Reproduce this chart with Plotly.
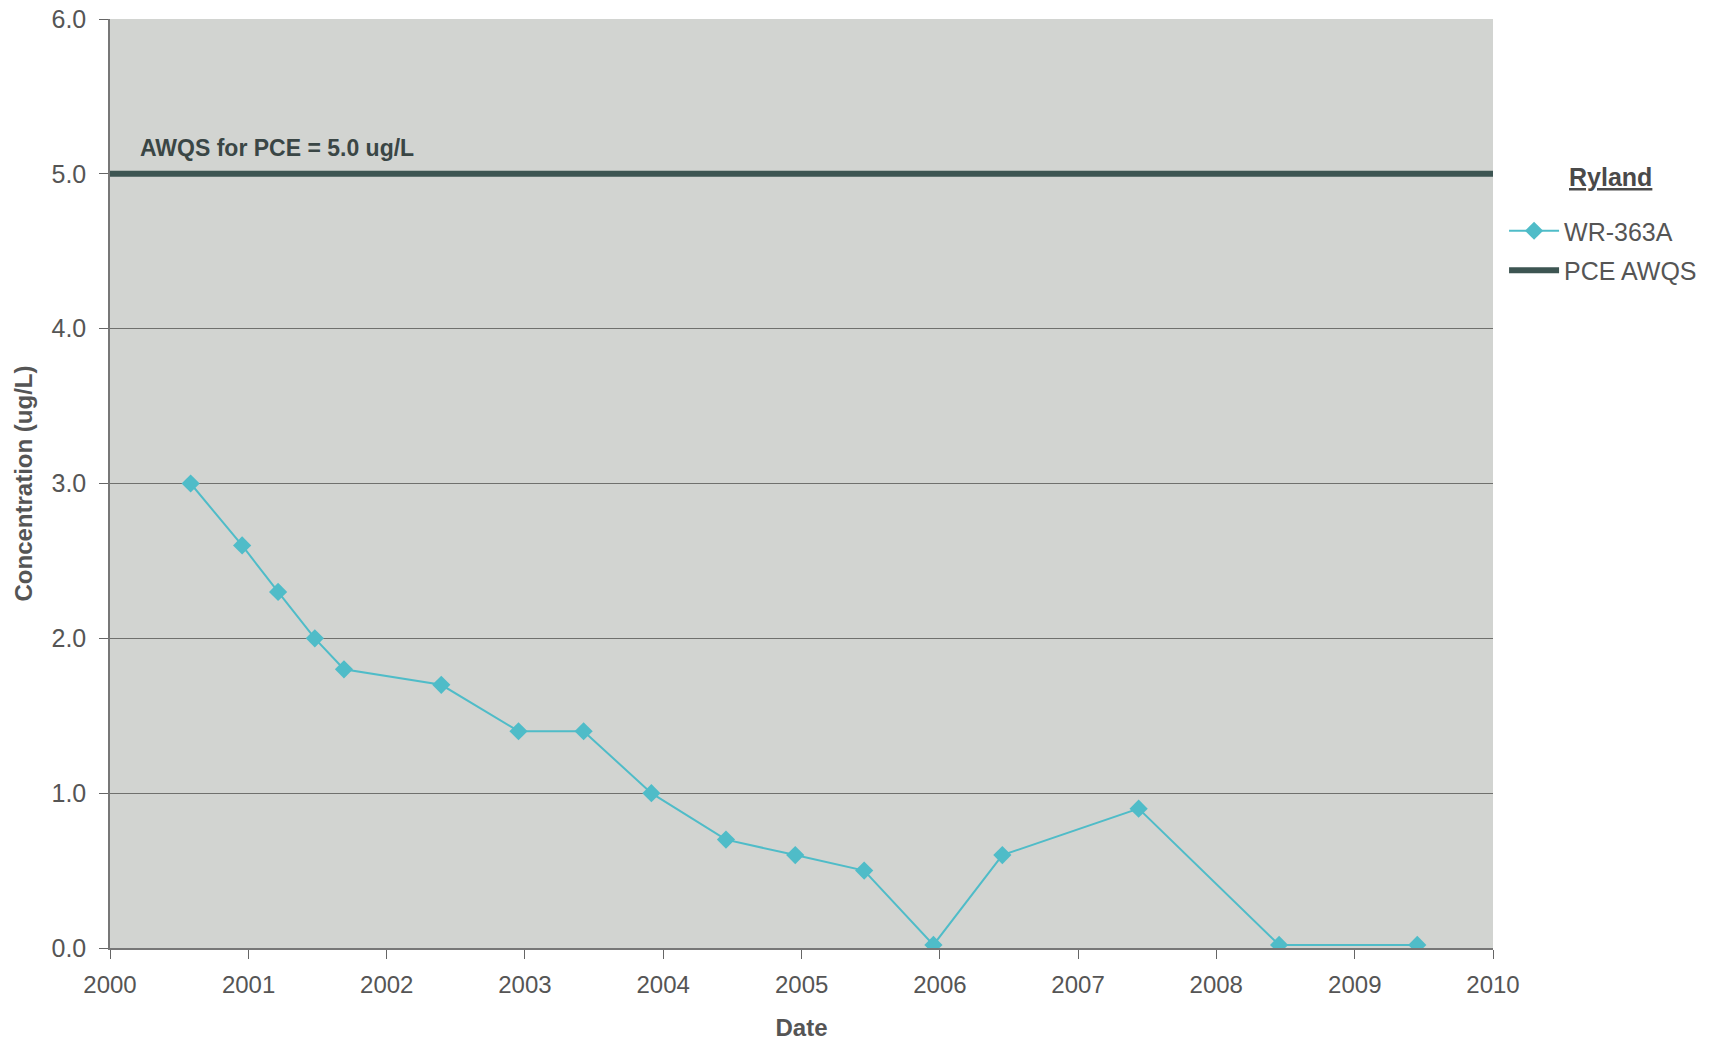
import plotly.graph_objects as go

dates = ["2000-08-01", "2000-12-15", "2001-03-20", "2001-06-25", "2001-09-10",
         "2002-05-25", "2002-12-15", "2003-06-05", "2003-12-01", "2004-06-15",
         "2004-12-15", "2005-06-15", "2005-12-15", "2006-06-15", "2007-06-10",
         "2008-06-15", "2009-06-15"]
conc = [3.0, 2.6, 2.3, 2.0, 1.8, 1.7, 1.4, 1.4, 1.0, 0.7, 0.6, 0.5, 0.02, 0.6, 0.9, 0.02, 0.02]

awqs_dates = ["2000-01-01", "2010-01-01"]
awqs_vals = [5.0, 5.0]

FONT = "Liberation Sans, Arial"

fig = go.Figure()
fig.add_trace(go.Scatter(
    x=dates, y=conc, name="WR-363A", mode="lines+markers",
    line=dict(color="#4fbcc8", width=2),
    marker=dict(symbol="diamond", size=14, color="#4fbcc8"),
    legendgroup="a",
))
fig.add_trace(go.Scatter(
    x=awqs_dates, y=awqs_vals, name="PCE AWQS", mode="lines",
    line=dict(color="#3d5552", width=6),
    legendgroup="b",
))

fig.add_annotation(x=0.02, xref="paper", y=5.0, yref="y", yshift=26,
                   text="<b>AWQS for PCE = 5.0 ug/L</b>",
                   showarrow=False, xanchor="left", yanchor="middle",
                   font=dict(family=FONT, size=23, color="#3a4645"))

fig.add_annotation(x=(1610 - 110) / 1383, xref="paper", y=(948 - 177) / 929, yref="paper",
                   text="<b><u>Ryland</u></b>", showarrow=False,
                   xanchor="center", yanchor="middle",
                   font=dict(family=FONT, size=25, color="#4a4a4a"))

fig.update_layout(
    width=1731, height=1043,
    margin=dict(l=110, r=238, t=19, b=95, autoexpand=False),
    paper_bgcolor="white",
    plot_bgcolor="#d2d4d1",
    font=dict(family=FONT, size=24, color="#555555"),
    legend=dict(
        x=1.008, y=(948 - 208) / 929, xanchor="left", yanchor="top",
        font=dict(family=FONT, size=25, color="#555555"),
        bgcolor="rgba(0,0,0,0)", itemwidth=50, tracegroupgap=4,
    ),
    xaxis=dict(
        type="date", range=["2000-01-01", "2010-01-01"], dtick="M12", tickformat="%Y",
        showgrid=False, ticks="outside", ticklen=9, tickcolor="#666666",
        showline=True, linecolor="#777777", linewidth=1.5,
        title=dict(text="<b>Date</b>", font=dict(size=24, color="#555555"), standoff=23),
        tickfont=dict(size=24, color="#555555"),
        ticklabelstandoff=5, automargin=False,
    ),
    yaxis=dict(
        range=[0, 6], dtick=1, tickformat=".1f",
        showgrid=True, gridcolor="#6f706d", gridwidth=1.3,
        ticks="outside", ticklen=9, tickcolor="#666666",
        showline=True, linecolor="#777777", linewidth=1.5,
        zeroline=False,
        title=dict(text="<b>Concentration (ug/L)</b>", font=dict(size=24, color="#555555"), standoff=12),
        tickfont=dict(size=25, color="#555555"),
        ticklabelstandoff=8, automargin=False,
    ),
)

fig.write_html("out.html")
